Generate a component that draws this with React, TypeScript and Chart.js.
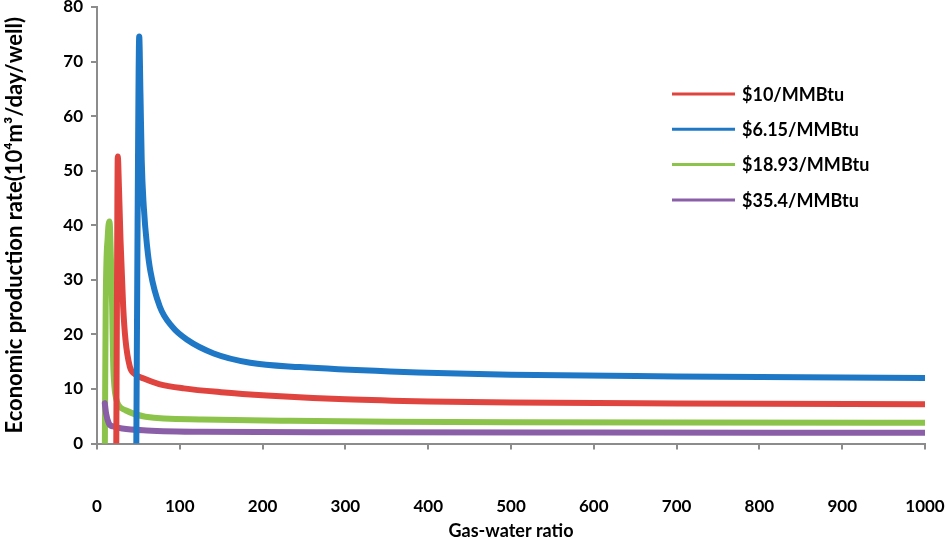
import React, { useEffect, useRef } from "react";
import { Chart, registerables } from "chart.js";

Chart.register(...registerables);

// values
const seriesNames = ["$10/MMBtu", "$6.15/MMBtu", "$18.93/MMBtu", "$35.4/MMBtu"];
const seriesColors = ["#E0443F", "#1F78C6", "#8CC34A", "#8A5FA8"];

const redX = [23.3, 24.2, 25.1, 26.5, 28.4, 31.6, 34.4, 39.6, 45, 56.5, 75, 104.8, 150, 205, 300, 400, 500, 700, 1000];
const redY = [0, 30, 52.6, 47, 37.3, 25.1, 19, 14.1, 12.8, 11.9, 10.9, 10.1, 9.4, 8.8, 8.1, 7.7, 7.5, 7.35, 7.2];

const blueX = [47.5, 49, 51, 52.5, 54, 56.5, 60.6, 64.6, 75.8, 90.8, 108.9, 141, 185, 245, 354, 500, 700, 1000];
const blueY = [0, 40, 74.6, 64, 52, 43.4, 36, 31.5, 25.1, 21.4, 19, 16.5, 14.8, 14.0, 13.2, 12.6, 12.3, 12.0];

const greenX = [9.5, 10.5, 13, 15.1, 17, 18.3, 19.5, 21, 23, 26, 34.4, 58.6, 127, 234, 354, 500, 700, 1000];
const greenY = [0, 25, 38, 40.7, 33, 25, 15, 10.5, 8.3, 7, 6.1, 4.9, 4.4, 4.15, 4.0, 3.9, 3.85, 3.8];

const purpleX = [9.4, 11, 14.3, 20, 30.4, 60, 127, 300, 600, 1000];
const purpleY = [7.4, 5.5, 3.7, 3.1, 2.75, 2.4, 2.15, 2.05, 2.0, 1.95];

const xTitle = "Gas-water ratio";
const yTitle = "Economic production rate(10⁴m³/day/well)";

const FONT = "Lato, 'Liberation Sans', sans-serif";
const AXIS_GRAY = "#8c8c8c";

const toPoints = (xs: number[], ys: number[]) => xs.map((x, i) => ({ x, y: ys[i] }));

// legend sits inside the plot, on the right, like the original
const insideLegend = {
  id: "insideLegend",
  afterDraw(chart: Chart) {
    const ctx = chart.ctx;
    const right = chart.chartArea.right;
    ctx.save();
    ctx.font = `bold 18px ${FONT}`;
    ctx.textBaseline = "middle";
    ctx.fillStyle = "#000";
    seriesNames.forEach((name, i) => {
      const y = 94 + i * 35.3;
      ctx.strokeStyle = seriesColors[i];
      ctx.lineWidth = 3;
      ctx.beginPath();
      ctx.moveTo(right - 253, y);
      ctx.lineTo(right - 190, y);
      ctx.stroke();
      ctx.fillText(name, right - 183, y + 1);
    });
    ctx.restore();
  },
};

const App = () => {
  const canvasRef = useRef<HTMLCanvasElement | null>(null);

  useEffect(() => {
    if (!canvasRef.current) return;

    const line = (idx: number, xs: number[], ys: number[]) => ({
      label: seriesNames[idx],
      data: toPoints(xs, ys),
      borderColor: seriesColors[idx],
      backgroundColor: seriesColors[idx],
      borderWidth: 6,
      pointRadius: 0,
      showLine: true,
      fill: false,
      cubicInterpolationMode: "monotone" as const,
      borderJoinStyle: "round" as const,
      borderCapStyle: "round" as const,
    });

    // first dataset is drawn on top
    const chart = new Chart(canvasRef.current, {
      type: "scatter",
      data: {
        datasets: [
          line(1, blueX, blueY),
          line(0, redX, redY),
          line(3, purpleX, purpleY),
          line(2, greenX, greenY),
        ],
      },
      options: {
        responsive: false,
        animation: false,
        layout: { padding: { top: 7, right: 23, left: 0, bottom: 0 } },
        plugins: {
          legend: { display: false },
          tooltip: { enabled: false },
        },
        scales: {
          x: {
            type: "linear",
            min: 0,
            max: 1000,
            afterFit: (s: any) => {
              s.height = 96.5;
              s.paddingLeft = 0;
              s.paddingRight = 0;
            },
            ticks: {
              stepSize: 100,
              padding: 47,
              color: "#000",
              callback: (v: any) => String(v),
              font: { family: FONT, size: 17, weight: "bold" },
            },
            grid: {
              display: true,
              drawOnChartArea: false,
              drawTicks: true,
              tickLength: 6,
              color: AXIS_GRAY,
              lineWidth: 2,
            },
            border: { display: true, color: AXIS_GRAY, width: 2 },
            title: {
              display: true,
              text: xTitle,
              color: "#000",
              padding: { top: 0, bottom: -2 },
              font: { family: FONT, size: 18, weight: "bold" },
            },
          },
          y: {
            type: "linear",
            min: 0,
            max: 80,
            afterFit: (s: any) => {
              s.width = 97;
              s.paddingTop = 0;
              s.paddingBottom = 0;
            },
            ticks: {
              stepSize: 10,
              padding: 8,
              color: "#000",
              font: { family: FONT, size: 17, weight: "bold" },
            },
            grid: {
              display: true,
              drawOnChartArea: false,
              drawTicks: true,
              tickLength: 6,
              color: AXIS_GRAY,
              lineWidth: 2,
            },
            border: { display: true, color: AXIS_GRAY, width: 2 },
            title: {
              display: true,
              text: yTitle,
              color: "#000",
              padding: 2,
              font: { family: FONT, size: 22, weight: "bold" },
            },
          },
        },
      },
      plugins: [insideLegend],
    });

    return () => {
      chart.destroy();
    };
  }, []);

  return (
    <div style={{ position: "absolute", left: 0, top: 0, width: 948, height: 540, background: "#fff" }}>
      <canvas ref={canvasRef} width={948} height={540}></canvas>
    </div>
  );
};

export default App;
